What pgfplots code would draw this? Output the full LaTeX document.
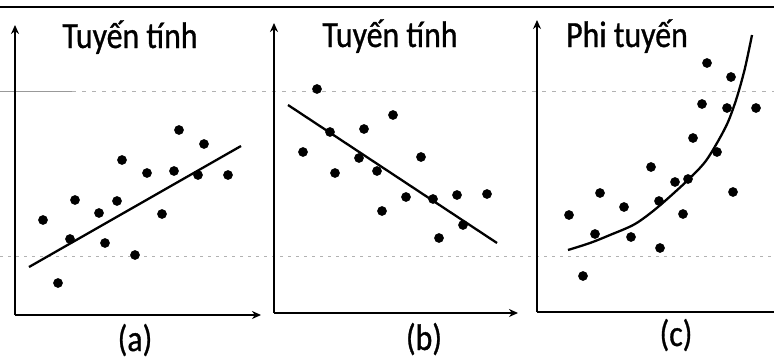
\documentclass[border=0pt]{standalone}
\usepackage{fontspec}
\setmainfont{Carlito}
\newfontfamily\tfont[FakeStretch=0.86, FakeBold=0.8]{Carlito}
\usepackage{pgfplots}
\pgfplotsset{compat=1.18}
\usetikzlibrary{arrows.meta}
\pgfplotsset{
  panel/.style={scale only axis, anchor=south west, axis lines=left,
    axis line style={line width=2.3pt, -{Stealth[length=9pt,width=8pt]}},
    xtick=\empty, ytick=\empty, clip=false},
  dots/.style={only marks, mark=*, mark size=4.6pt, black},
  fit/.style={no marks, black, line width=2.3pt},
}
\begin{document}
\begin{tikzpicture}[x=1pt,y=1pt]
% background layer (scan artefacts, titles, labels)
\begin{axis}[scale only axis, anchor=south west, at={(0pt,0pt)},
  width=774pt, height=360pt, xmin=0, xmax=774, ymin=0, ymax=360,
  hide axis, clip=false]
\addplot[no marks, black, line width=1.2pt] coordinates {(0,353) (774,353)};
\addplot[no marks, gray!80, line width=0.9pt] coordinates {(0,269) (72,269)};
\addplot[no marks, gray!60, line width=0.8pt, dash pattern=on 4pt off 6pt] coordinates {(72,269) (774,269)};
\addplot[no marks, gray!60, line width=0.8pt, dash pattern=on 3pt off 5pt] coordinates {(0,104) (774,104)};
\node[anchor=base, font=\tfont\fontsize{37}{40}\selectfont] at (axis cs:130,312) {Tuyến tính};
\node[anchor=base, font=\tfont\fontsize{37}{40}\selectfont] at (axis cs:390,313) {Tuyến tính};
\node[anchor=base, font=\tfont\fontsize{37}{40}\selectfont] at (axis cs:627,313) {Phi tuyến};
\node[anchor=base, font=\tfont\fontsize{37}{40}\selectfont] at (axis cs:135,9) {(a)};
\node[anchor=base, font=\tfont\fontsize{37}{40}\selectfont] at (axis cs:424,10) {(b)};
\node[anchor=base, font=\tfont\fontsize{37}{40}\selectfont] at (axis cs:676,14) {(c)};
\end{axis}
% panel (a)
\begin{axis}[panel, at={(15pt,45pt)}, width=246pt, height=290pt,
  xmin=15, xmax=261, ymin=45, ymax=335]
\addplot[fit] coordinates {(29,93) (241,214)};
\addplot[dots] coordinates {(43,140) (58,77) (70,121) (75,160) (99,147) (105,117) (117,159) (122,200) (135,105) (147,187) (162,146) (174,189) (179,230) (198,185) (204,216) (228,185)};
\end{axis}
% panel (b)
\begin{axis}[panel, at={(274pt,47pt)}, width=244pt, height=290pt,
  xmin=274, xmax=518, ymin=47, ymax=337]
\addplot[fit] coordinates {(288,255) (497,117)};
\addplot[dots] coordinates {(303,208) (317,271) (330,228) (335,187) (359,202) (364,231) (377,189) (382,149) (393,245) (406,163) (421,203) (433,161) (439,122) (457,165) (463,135) (487,166)};
\end{axis}
% panel (c)
\begin{axis}[panel, at={(537pt,48pt)}, width=237pt, height=292pt,
  xmin=537, xmax=774, ymin=48, ymax=340,
  x axis line style={-}]
\addplot[fit, smooth] coordinates {(568,110) (590,117) (610,125) (635,136) (658,153) (688,180) (705,198) (717,217) (728,238) (737,263) (745,292) (752,325)};
\addplot[dots] coordinates {(569,145) (583,84) (595,126) (600,167) (624,153) (631,123) (651,193) (659,159) (660,112) (675,178) (683,146) (688,181) (693,222) (702,256) (707,297) (717,208) (727,252) (731,283) (733,168) (756,252)};
\end{axis}
\pgfresetboundingbox
\useasboundingbox (0pt,0pt) rectangle (774pt,360pt);
\end{tikzpicture}
\end{document}
